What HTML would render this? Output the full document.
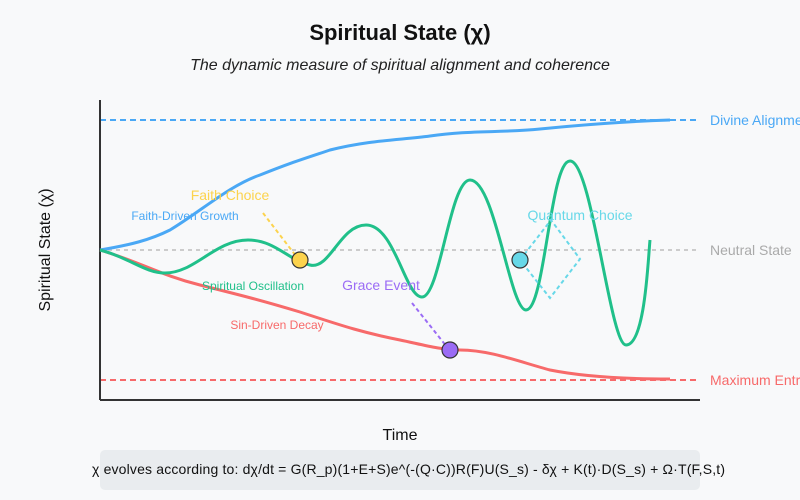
<!DOCTYPE html>
<html><head><meta charset="utf-8"><style>
body{margin:0;background:#f8f9fa;font-family:"Liberation Sans",sans-serif}
</style></head><body>
<svg width="800" height="500" xmlns="http://www.w3.org/2000/svg" style="display:block;font-family:'Liberation Sans',sans-serif">
<rect width="800" height="500" fill="#f8f9fa"/>
<text x="400" y="40" text-anchor="middle" font-size="22" font-weight="bold" fill="#111">Spiritual State (χ)</text>
<text x="400" y="70" text-anchor="middle" font-size="16" font-style="italic" fill="#222">The dynamic measure of spiritual alignment and coherence</text>
<line x1="100" y1="120" x2="700" y2="120" stroke="#4aa8f5" stroke-width="2" stroke-dasharray="6,4"/>
<line x1="100" y1="250" x2="700" y2="250" stroke="#ccc" stroke-width="2" stroke-dasharray="4,4"/>
<line x1="100" y1="380" x2="700" y2="380" stroke="#f76a6a" stroke-width="2" stroke-dasharray="6,4"/>
<line x1="100" y1="100" x2="100" y2="400" stroke="#333" stroke-width="2"/>
<line x1="100" y1="400" x2="700" y2="400" stroke="#333" stroke-width="2"/>
<text x="710" y="125" font-size="14" fill="#4aa8f5">Divine Alignment</text>
<text x="710" y="255" font-size="14" fill="#aaa">Neutral State</text>
<text x="710" y="385" font-size="14" fill="#f76a6a">Maximum Entropy</text>
<path d="M100,250 C130,245 150,240 170,230 C200,212 230,185 260,175 C290,163 300,160 330,150 C370,140 400,140 430,136 C470,130 500,133 540,129 C600,123 640,121 670,120" fill="none" stroke="#4aa8f5" stroke-width="3"/>
<path d="M100,250 C140,262 160,275 200,285 C240,295 260,300 300,312 C340,325 360,332 400,340 C420,344 440,350 460,350 C490,350 520,362 550,370 C580,376 620,379 670,379" fill="none" stroke="#f76a6a" stroke-width="3"/>
<path d="M100,250 C130,258 145,273 165,273 C195,273 215,240 248,240 C275,240 288,260 310,265 C330,270 340,225 366,225 C395,225 405,297 422,297 C440,297 450,180 470,180 C495,180 510,310 526,310 C545,310 550,161 570,161 C592,161 610,345 626,345 C645,345 648,260 650,240" fill="none" stroke="#20c08a" stroke-width="3"/>
<line x1="263" y1="213" x2="296" y2="256" stroke="#fcd34d" stroke-width="2" stroke-dasharray="4,3"/>
<line x1="412" y1="303" x2="447" y2="347" stroke="#9b6cf5" stroke-width="2" stroke-dasharray="4,3"/>
<path d="M520,260 L551,220 L580,259 L550,298 Z" fill="none" stroke="#67d8e8" stroke-width="2" stroke-dasharray="4,3"/>
<circle cx="300" cy="260" r="8" fill="#fcd34d" stroke="#333" stroke-width="1.2"/>
<circle cx="450" cy="350" r="8" fill="#9b6cf5" stroke="#333" stroke-width="1.2"/>
<circle cx="520" cy="260" r="8" fill="#67d8e8" stroke="#333" stroke-width="1.2"/>
<text x="230" y="200" text-anchor="middle" font-size="14" fill="#fcd34d">Faith Choice</text>
<text x="185" y="220" text-anchor="middle" font-size="12" fill="#4aa8f5">Faith-Driven Growth</text>
<text x="253" y="290" text-anchor="middle" font-size="12" fill="#20c08a">Spiritual Oscillation</text>
<text x="277" y="329" text-anchor="middle" font-size="12" fill="#f76a6a">Sin-Driven Decay</text>
<text x="381" y="290" text-anchor="middle" font-size="14" fill="#9b6cf5">Grace Event</text>
<text x="580" y="220" text-anchor="middle" font-size="14" fill="#67d8e8">Quantum Choice</text>
<text x="400" y="440" text-anchor="middle" font-size="16" fill="#111">Time</text>
<text x="50" y="250" text-anchor="middle" font-size="16" fill="#111" transform="rotate(-90 50 250)">Spiritual State (χ)</text>
<rect x="100" y="450" width="600" height="40" rx="5" fill="#e9ecef"/>
<text x="92" y="474" font-size="14" fill="#111" textLength="633" lengthAdjust="spacing">χ evolves according to: dχ/dt = G(R_p)(1+E+S)e^(-(Q·C))R(F)U(S_s) - δχ + K(t)·D(S_s) + Ω·T(F,S,t)</text>
</svg>
</body></html>
